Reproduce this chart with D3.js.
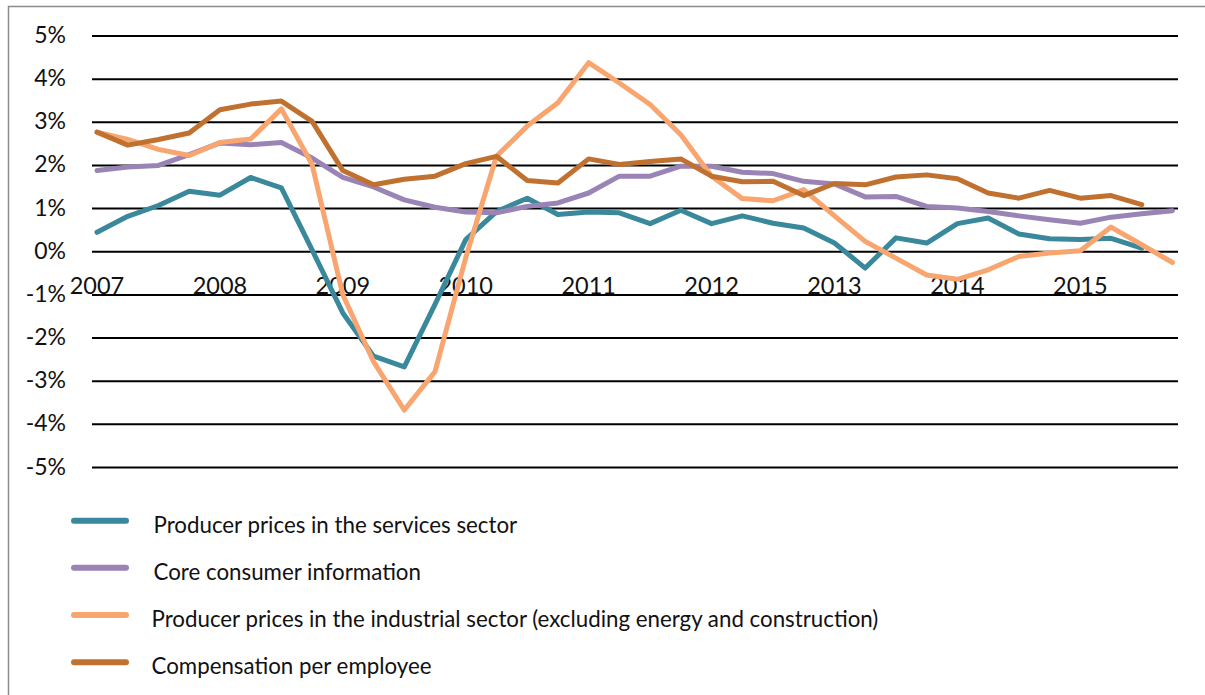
<!DOCTYPE html>
<html>
<head>
<meta charset="utf-8">
<script src="https://cdn.jsdelivr.net/npm/d3@7"></script>
<style>
html,body{margin:0;padding:0;background:#fff;}
svg{display:block;}
text{font-family:Lato, "Open Sans", sans-serif;fill:#111;}
</style>
</head>
<body>
<svg id="chart" width="1205" height="695"></svg>
<script>
const years = ["2007","2008","2009","2010","2011","2012","2013","2014","2015"];
const quarters = [];
years.forEach(y => ["Q1","Q2","Q3","Q4"].forEach(q => quarters.push(y + q)));
const yTicks = [5,4,3,2,1,0,-1,-2,-3,-4,-5];

const services = [0.44,0.81,1.06,1.39,1.30,1.71,1.47,0.03,-1.43,-2.43,-2.68,-1.23,0.27,0.92,1.23,0.85,0.91,0.89,0.64,0.95,0.64,0.82,0.65,0.54,0.19,-0.39,0.31,0.19,0.64,0.77,0.40,0.29,0.27,0.30,0.07,null];
const coreConsumer = [1.87,1.95,1.99,2.24,2.51,2.47,2.52,2.16,1.71,1.49,1.19,1.02,0.91,0.89,1.04,1.12,1.35,1.74,1.74,1.97,1.97,1.83,1.80,1.62,1.56,1.26,1.27,1.04,1.00,0.92,0.82,0.73,0.65,0.79,0.87,0.94];
const industrial = [2.76,2.59,2.36,2.22,2.52,2.60,3.30,2.01,-1.01,-2.56,-3.68,-2.79,-0.15,2.20,2.90,3.44,4.37,3.90,3.40,2.70,1.74,1.22,1.17,1.43,0.82,0.23,-0.16,-0.55,-0.65,-0.43,-0.12,-0.04,0.01,0.56,0.15,-0.26];
const compensation = [2.76,2.46,2.59,2.74,3.28,3.41,3.48,3.01,1.87,1.54,1.67,1.74,2.03,2.20,1.64,1.58,2.14,2.01,2.08,2.14,1.74,1.61,1.62,1.29,1.57,1.54,1.72,1.77,1.68,1.35,1.23,1.41,1.23,1.29,1.08,null];

const seriesNames = [
  "Producer prices in the services sector",
  "Core consumer information",
  "Producer prices in the industrial sector (excluding energy and construction)",
  "Compensation per employee"
];
const seriesValues = [services, coreConsumer, industrial, compensation];
const colors = ["#3a889b", "#9a84b5", "#f8a570", "#c1712f"];

const svg = d3.select("#chart");

// outer border
svg.append("path")
  .attr("d", "M8.5,695 L8.5,6.5 L1205,6.5")
  .attr("fill","none").attr("stroke","#8c8c8c").attr("stroke-width",1.5);

const x = d3.scalePoint().domain(quarters).range([97, 1172.5]);
const y = d3.scaleLinear().domain([-5,5]).range([467, 35.5]);

// gridlines
svg.append("g").attr("transform","translate(1178,0)")
  .call(d3.axisRight(y).tickValues(yTicks).tickSize(-(1178-92)).tickFormat(""))
  .call(g => g.select(".domain").remove())
  .call(g => g.selectAll("line").attr("stroke","#000").attr("stroke-width",2));

// y labels
svg.append("g").selectAll("text").data(yTicks).join("text")
  .attr("x", 66).attr("y", d => y(d) + 7.5)
  .attr("text-anchor","end").attr("font-size", 23)
  .text(d => d + "%");

// x labels (years at Q1)
svg.append("g").selectAll("text").data(years).join("text")
  .attr("x", d => x(d + "Q1")).attr("y", 293.5)
  .attr("text-anchor","middle").attr("font-size", 23.5)
  .text(d => d);

// lines
const line = d3.line()
  .defined(d => d.v !== null)
  .x(d => x(d.q)).y(d => y(d.v));

seriesValues.forEach((vals, i) => {
  svg.append("path")
    .datum(vals.map((v, j) => ({q: quarters[j], v})))
    .attr("d", line)
    .attr("fill","none")
    .attr("stroke", colors[i])
    .attr("stroke-width", 5)
    .attr("stroke-linejoin","round")
    .attr("stroke-linecap","round");
});

// legend
const legendY = [520.7, 567.7, 615, 662.3];
const lg = svg.append("g");
seriesNames.forEach((name, i) => {
  lg.append("line")
    .attr("x1", 74).attr("x2", 126)
    .attr("y1", legendY[i]).attr("y2", legendY[i])
    .attr("stroke", colors[i]).attr("stroke-width", 6).attr("stroke-linecap","round");
  lg.append("text")
    .attr("x", i < 2 ? 153.5 : 151.5).attr("y", legendY[i] + 12)
    .attr("font-size", 22.3)
    .text(name);
});
</script>
</body>
</html>
